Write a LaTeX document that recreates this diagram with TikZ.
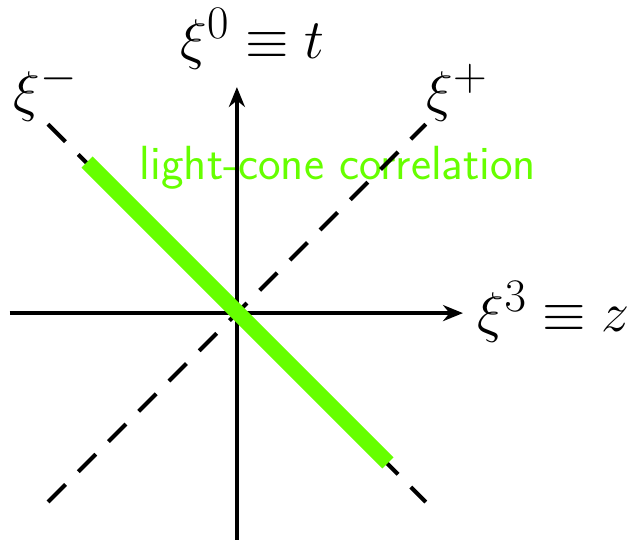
\documentclass[tikz,border=0pt]{standalone}
\usepackage{amsmath,amssymb}
\usepackage{tikz}
\usepackage{xcolor}
\usetikzlibrary{arrows.meta,positioning}
\definecolor{ink}{HTML}{000000}
\definecolor{conegreen}{HTML}{66FF00}
\tikzset{
  axisarr/.style={-{Stealth[length=3.1mm,width=2.5mm]},line width=1.8pt,color=ink},
  coneline/.style={line width=1.8pt,dash pattern=on 11pt off 8pt,color=ink},
  corrline/.style={line width=7pt,color=conegreen},
  axlabel/.style={font=\Huge,inner sep=0pt,anchor=base},
  corrlabel/.style={font=\fontsize{21.3}{26}\selectfont\sffamily,text=conegreen,inner sep=0pt,anchor=base}
}

\begin{document}
\begin{tikzpicture}[x=1cm,y=1cm]
  \useasboundingbox (-3.70,-3.53) rectangle (6.28,4.89);
  % text first, the lines run over it
  \node[corrlabel] (corr) at (1.58,2.08) {light-cone correlation};
  % axes
  \coordinate (zmin) at (-3.55,0);
  \coordinate (zmax) at (3.53,0);
  \coordinate (tmin) at (0,-3.7);
  \coordinate (tmax) at (0,3.53);
  \draw[axisarr] (zmin) -- (zmax);
  \draw[axisarr] (tmin) -- (tmax);
  % light-cone directions
  \coordinate (pmin) at (-2.95,-2.95);
  \coordinate (pmax) at (2.95,2.95);
  \coordinate (mmin) at (-2.95,2.95);
  \coordinate (mmax) at (2.95,-2.95);
  \draw[coneline] (pmin) -- (pmax);
  \draw[coneline] (mmin) -- (mmax);
  % correlation along xi^-
  \coordinate (cstart) at (-2.34,2.36);
  \coordinate (cend) at (2.36,-2.34);
  \draw[corrline] (cstart) -- (cend);
  % axis labels
  \node[axlabel] (tlabel) at (0.24,3.97) {$\xi^0\equiv t$};
  \node[axlabel] (zlabel) at (4.95,-0.29) {$\xi^3\equiv z$};
  \node[axlabel] (plabel) at (3.44,3.16) {$\xi^+$};
  \node[axlabel] (mlabel) at (-2.99,3.16) {$\xi^-$};
\end{tikzpicture}
\end{document}
